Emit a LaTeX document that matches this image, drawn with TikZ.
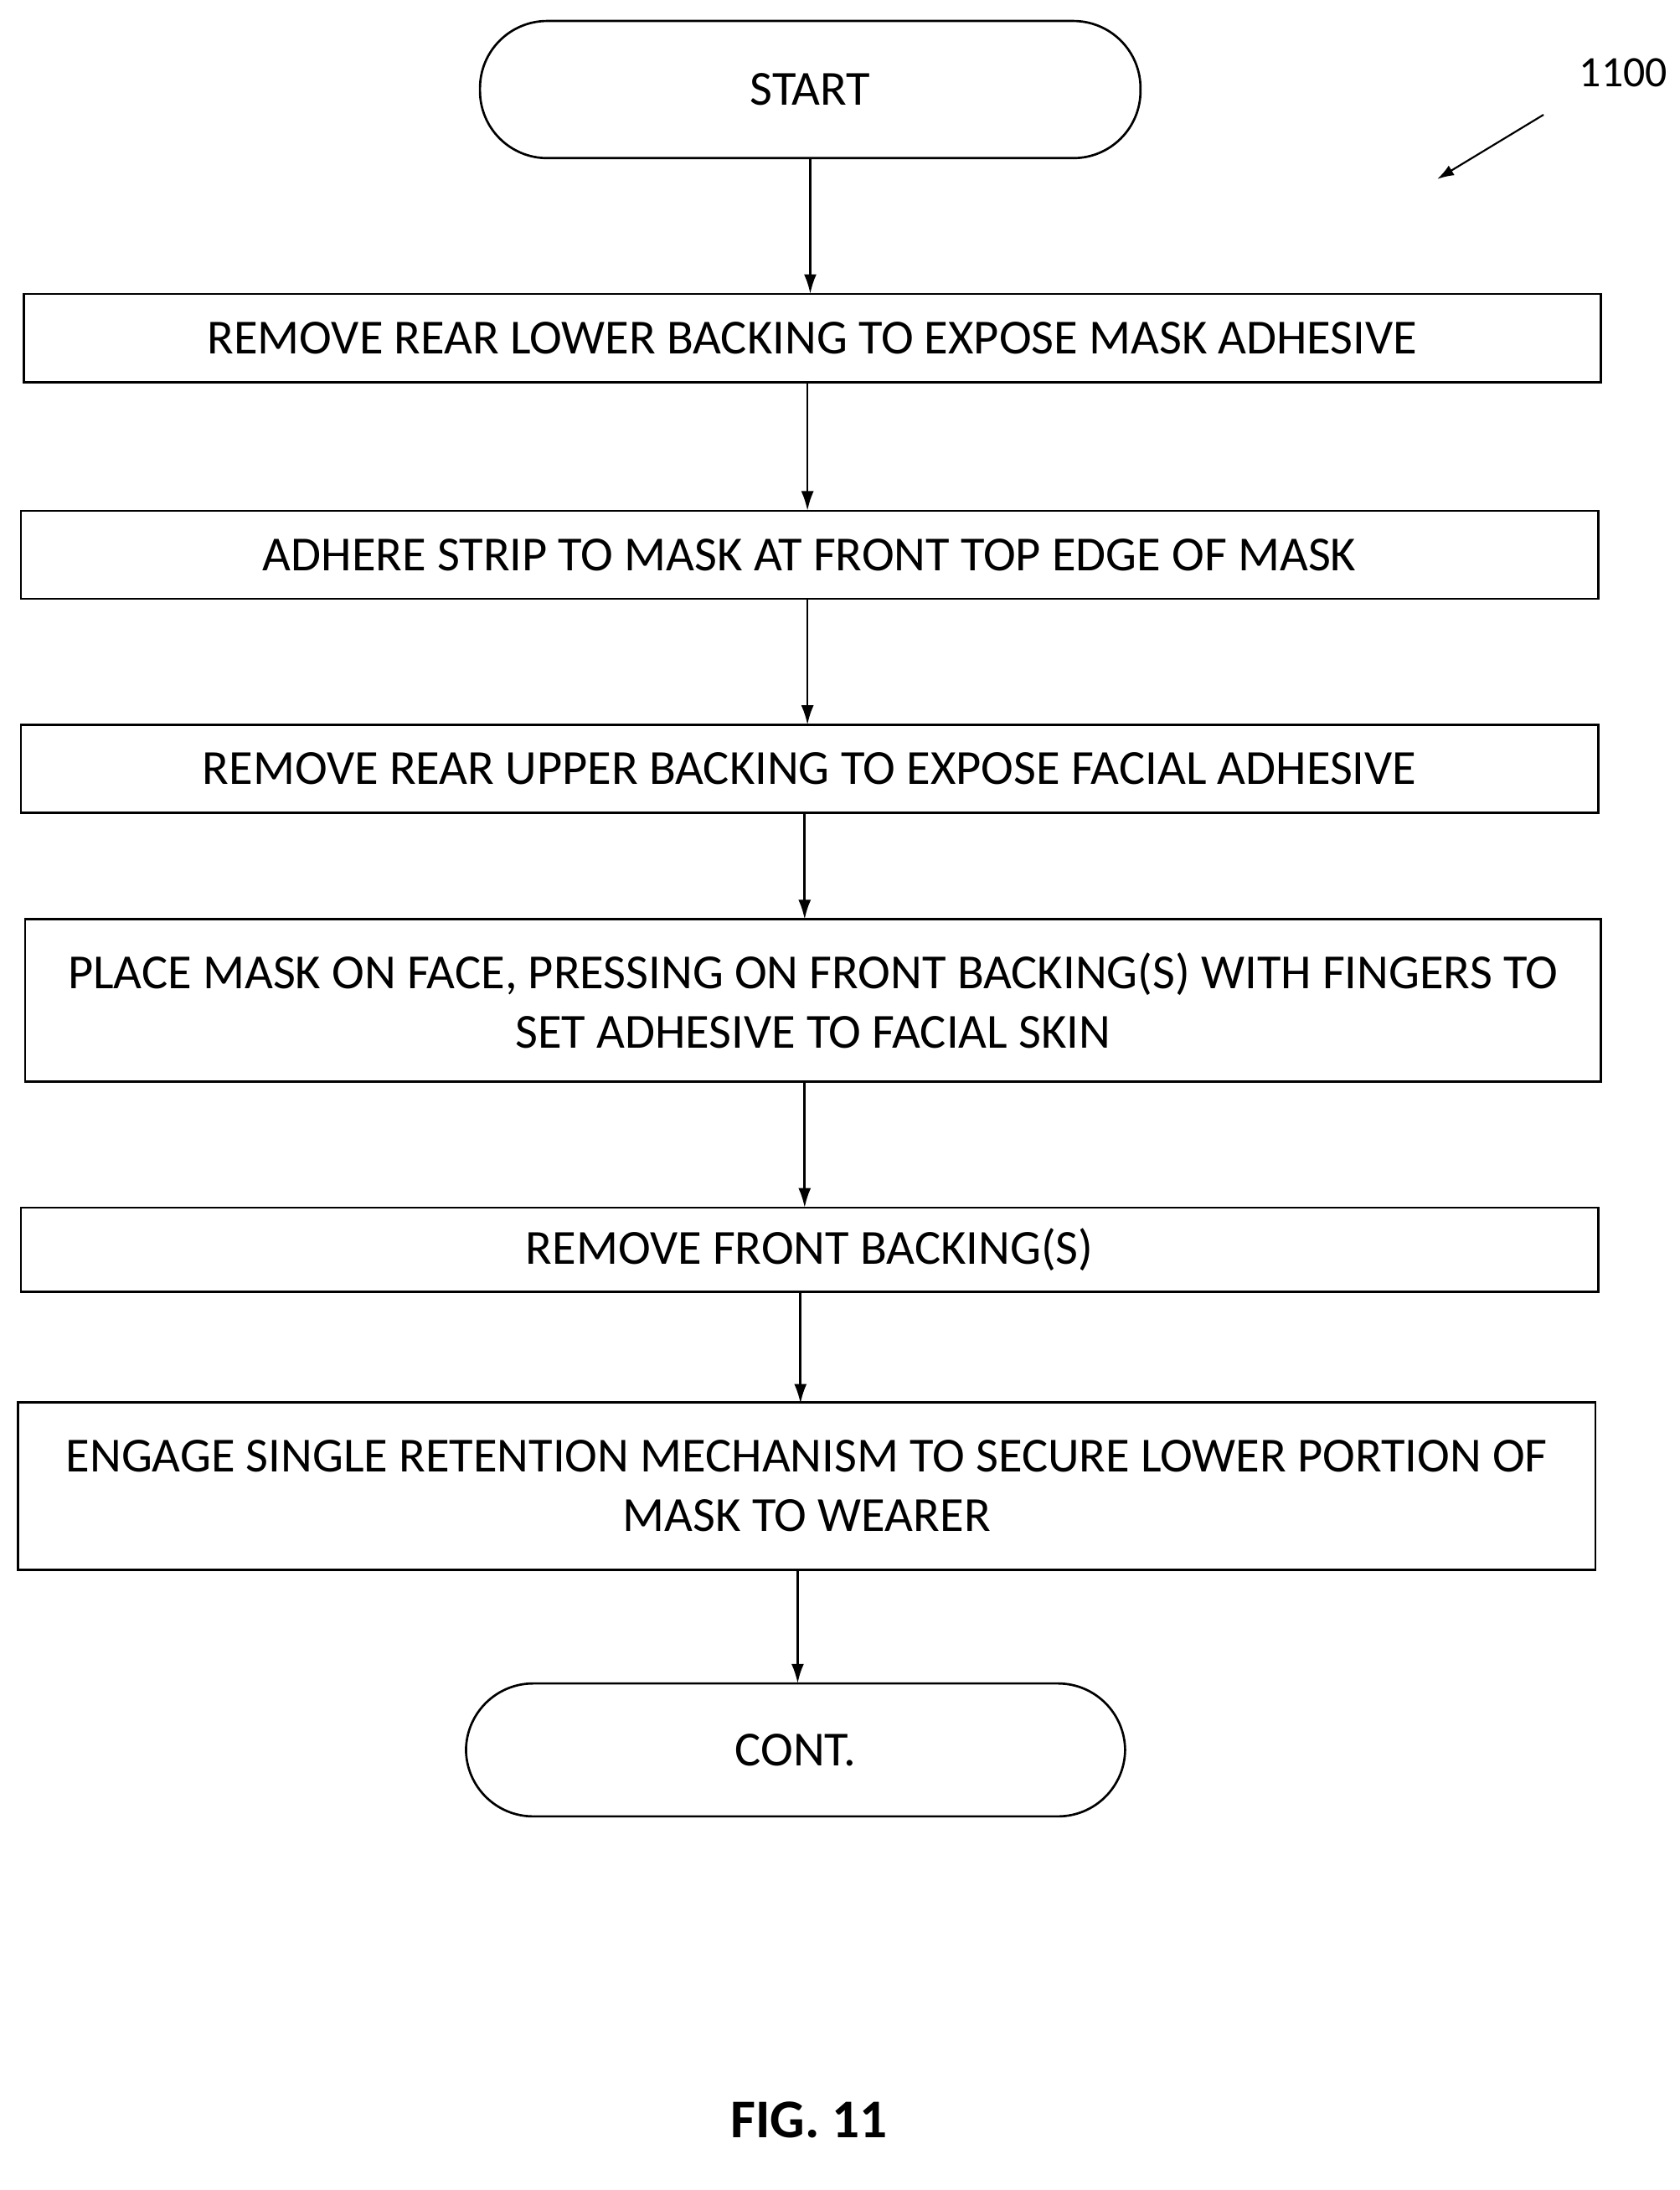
\documentclass[tikz,border=0pt]{standalone}
\usepackage{fontspec}
\setmainfont{Carlito}
\usetikzlibrary{arrows.meta}
\begin{document}
\begin{tikzpicture}[x=1pt,y=-1pt,
  stepbox/.style={draw,line width=1.6pt,inner sep=0pt,align=center,font=\fontsize{35}{42.5}\selectfont},
  term/.style={draw,line width=1.6pt,rounded corners=48pt,inner sep=0pt,font=\fontsize{35}{40}\selectfont},
  arr/.style={line width=1.6pt,-{Latex[length=14pt,width=9pt]}}]
\useasboundingbox (0,0) rectangle (1200,1565);
\node[term,minimum width=472pt,minimum height=98pt] (s) at (579,64) {START};
\node[stepbox,minimum width=1127pt,minimum height=63pt] (b1) at (580.5,241.5) {REMOVE REAR LOWER BACKING TO EXPOSE MASK ADHESIVE};
\node[stepbox,minimum width=1127pt,minimum height=63pt] (b2) at (578.5,396.5) {ADHERE STRIP TO MASK AT FRONT TOP EDGE OF MASK};
\node[stepbox,minimum width=1127pt,minimum height=63pt] (b3) at (578.5,549.5) {REMOVE REAR UPPER BACKING TO EXPOSE FACIAL ADHESIVE};
\node[stepbox,minimum width=1126pt,minimum height=116pt] (b4) at (581,715) {PLACE MASK ON FACE, PRESSING ON FRONT BACKING(S) WITH FINGERS TO\\SET ADHESIVE TO FACIAL SKIN};
\node[stepbox,minimum width=1127pt,minimum height=60pt] (b5) at (578.5,893) {REMOVE FRONT BACKING(S)};
\node[stepbox,minimum width=1127pt,minimum height=120pt] (b6) at (576.5,1062) {ENGAGE SINGLE RETENTION MECHANISM TO SECURE LOWER PORTION OF\\MASK TO WEARER};
\node[term,minimum width=471pt,minimum height=95pt] (c) at (568.5,1250.5) {CONT.};
\node[font=\fontsize{39}{44}\selectfont\bfseries] (fig) at (578,1515) {FIG. 11};
\node[font=\fontsize{31}{36}\selectfont] (lbl) at (1160,52) {1100};
\coordinate (la) at (1103,82);
\coordinate (lb) at (1027,128);
\draw[line width=1.3pt,-{Latex[length=12pt,width=8pt]}] (la) -- (lb);
\draw[arr] (579,113) -- (579,210);
\draw[arr] (577,273) -- (577,365);
\draw[arr] (577,428) -- (577,518);
\draw[arr] (575,581) -- (575,657);
\draw[arr] (575,773) -- (575,863);
\draw[arr] (572,923) -- (572,1003);
\draw[arr] (570,1123) -- (570,1203);
\end{tikzpicture}
\end{document}
